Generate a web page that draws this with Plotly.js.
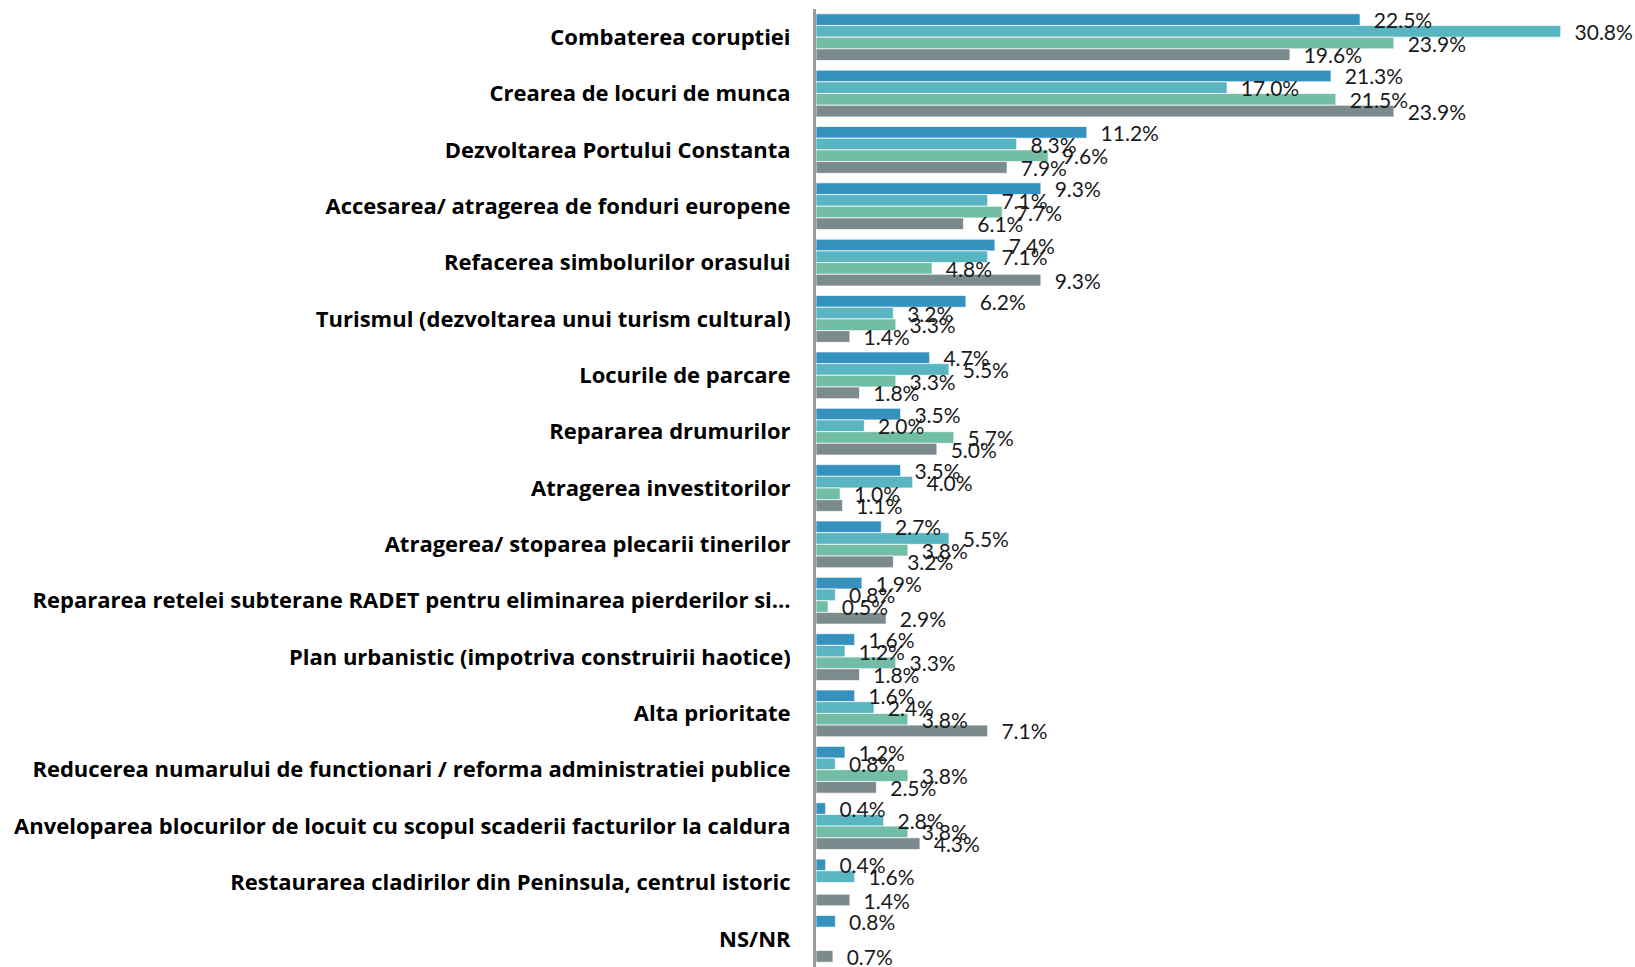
<!DOCTYPE html>
<html>
<head>
<meta charset="utf-8">
<script src="https://cdn.plot.ly/plotly-3.0.1.min.js"></script>
<style>
  html, body { margin: 0; padding: 0; background: #fff; }
  #chart { width: 1635px; height: 967px; }
</style>
</head>
<body>
<div id="chart"></div>
<script>
// categories, top to bottom
const categories = [
    'Combaterea coruptiei',
    'Crearea de locuri de munca',
    'Dezvoltarea Portului Constanta',
    'Accesarea/ atragerea de fonduri europene',
    'Refacerea simbolurilor orasului',
    'Turismul (dezvoltarea unui turism cultural)',
    'Locurile de parcare',
    'Repararea drumurilor',
    'Atragerea investitorilor',
    'Atragerea/ stoparea plecarii tinerilor',
    'Repararea retelei subterane RADET pentru eliminarea pierderilor si…',
    'Plan urbanistic (impotriva construirii haotice)',
    'Alta prioritate',
    'Reducerea numarului de functionari / reforma administratiei publice',
    'Anveloparea blocurilor de locuit cu scopul scaderii facturilor la caldura',
    'Restaurarea cladirilor din Peninsula, centrul istoric',
    'NS/NR'
];

// four series, percentages (null = no bar)
const series1 = [22.5, 21.3, 11.2, 9.3, 7.4, 6.2, 4.7, 3.5, 3.5, 2.7, 1.9, 1.6, 1.6, 1.2, 0.4, 0.4, 0.8];
const series2 = [30.8, 17.0, 8.3, 7.1, 7.1, 3.2, 5.5, 2.0, 4.0, 5.5, 0.8, 1.2, 2.4, 0.8, 2.8, 1.6, null];
const series3 = [23.9, 21.5, 9.6, 7.7, 4.8, 3.3, 3.3, 5.7, 1.0, 3.8, 0.5, 3.3, 3.8, 3.8, 3.8, null, null];
const series4 = [19.6, 23.9, 7.9, 6.1, 9.3, 1.4, 1.8, 5.0, 1.1, 3.2, 2.9, 1.8, 7.1, 2.5, 4.3, 1.4, 0.7];

const colors = ['#3592be', '#5ab5c2', '#72bda5', '#7b8a8d'];
const allSeries = [series1, series2, series3, series4];

// bars first, then transparent copies that carry the labels so
// that every label sits on top of all the bars (like the original)
const bars = allSeries.map(function (vals, i) {
    return {
        type: 'bar',
        orientation: 'h',
        y: categories,
        x: vals,
        offsetgroup: 'g' + i,
        marker: { color: colors[i], line: { color: 'rgba(255,255,255,0.7)', width: 1 } },
        hoverinfo: 'skip'
    };
});

const labels = allSeries.map(function (vals, i) {
    return {
        type: 'bar',
        orientation: 'h',
        y: categories,
        x: vals,
        offsetgroup: 'g' + i,
        marker: { color: 'rgba(0,0,0,0)' },
        text: vals.map(v => v === null ? '' : '\u00a0\u00a0' + v.toFixed(1) + '%'),
        textposition: 'outside',
        constraintext: 'none',
        cliponaxis: false,
        textfont: { family: 'Lato, sans-serif', size: 21, color: '#1a1a1a' },
        hoverinfo: 'skip'
    };
});

const layout = {
    width: 1635,
    height: 967,
    margin: { l: 816, r: 0, t: 9, b: 0 },
    barmode: 'group',
    bargap: 0.17,
    bargroupgap: 0,
    showlegend: false,
    paper_bgcolor: '#fff',
    plot_bgcolor: '#fff',
    xaxis: {
        range: [0, 33.87],
        visible: false,
        fixedrange: true
    },
    yaxis: {
        autorange: 'reversed',
        showline: true,
        linecolor: '#9a9a9a',
        linewidth: 3,
        ticks: '',
        showgrid: false,
        ticklabelstandoff: 18,
        tickfont: { family: '"Open Sans", sans-serif', size: 22, color: '#000', weight: 'bold' },
        fixedrange: true
    }
};

Plotly.newPlot('chart', bars.concat(labels), layout, { displayModeBar: false, staticPlot: true });
</script>
</body>
</html>
